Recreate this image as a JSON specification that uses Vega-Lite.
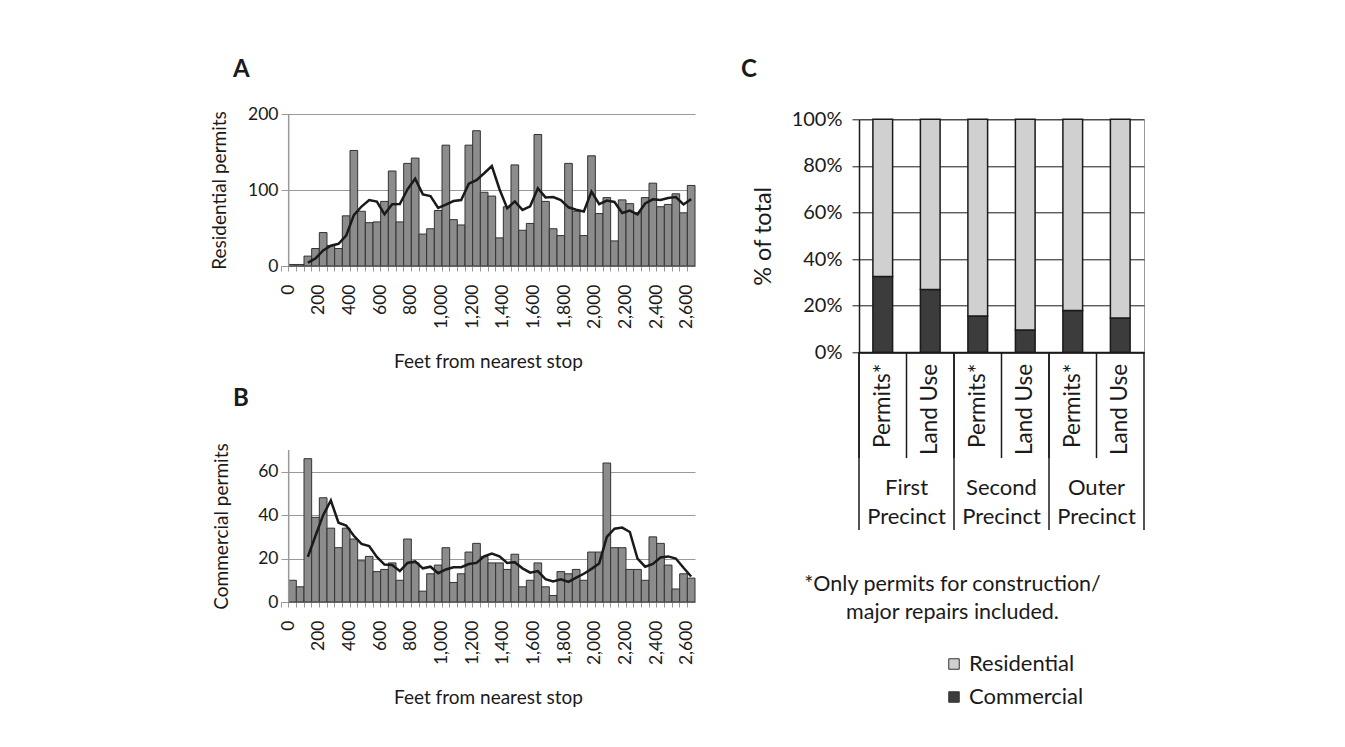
{
  "$schema": "https://vega.github.io/schema/vega-lite/v6.json",
  "background": "white",
  "padding": {"left": 210, "top": 57, "right": 200, "bottom": 40},
  "config": {
    "font": "Lato",
    "view": {"stroke": null},
    "axis": {"labelFont": "Lato", "titleFont": "Lato", "labelFontSize": 17.5, "titleFontSize": 19, "labelColor": "#1a1a1a", "titleColor": "#1a1a1a", "titleFontWeight": "normal"},
    "title": {"font": "Lato", "fontSize": 24, "fontWeight": "bold", "anchor": "start", "color": "#1a1a1a", "frame": "group", "baseline": "bottom"},
    "legend": {"labelFont": "Lato", "labelFontSize": 22, "labelColor": "#1a1a1a"}
  },
  "datasets": {
    "hist": [
      {"ft": 0, "res": 0, "com": 0, "res_ma": null, "com_ma": null},
      {"ft": 50, "res": 2, "com": 10, "res_ma": null, "com_ma": null},
      {"ft": 100, "res": 2, "com": 7, "res_ma": null, "com_ma": null},
      {"ft": 150, "res": 13, "com": 66, "res_ma": 4.25, "com_ma": 20.75},
      {"ft": 200, "res": 23, "com": 39, "res_ma": 10, "com_ma": 30.5},
      {"ft": 250, "res": 44, "com": 48, "res_ma": 20.5, "com_ma": 40},
      {"ft": 300, "res": 27, "com": 34, "res_ma": 26.75, "com_ma": 46.75},
      {"ft": 350, "res": 23, "com": 25, "res_ma": 29.25, "com_ma": 36.5},
      {"ft": 400, "res": 66, "com": 34, "res_ma": 40, "com_ma": 35.25},
      {"ft": 450, "res": 152, "com": 29, "res_ma": 67, "com_ma": 30.5},
      {"ft": 500, "res": 72, "com": 19, "res_ma": 78.25, "com_ma": 26.75},
      {"ft": 550, "res": 57, "com": 21, "res_ma": 86.75, "com_ma": 25.75},
      {"ft": 600, "res": 58, "com": 14, "res_ma": 84.75, "com_ma": 20.75},
      {"ft": 650, "res": 85, "com": 15, "res_ma": 68, "com_ma": 17.25},
      {"ft": 700, "res": 125, "com": 18, "res_ma": 81.25, "com_ma": 17},
      {"ft": 750, "res": 58, "com": 10, "res_ma": 81.5, "com_ma": 14.25},
      {"ft": 800, "res": 135, "com": 29, "res_ma": 100.75, "com_ma": 18},
      {"ft": 850, "res": 142, "com": 18, "res_ma": 115, "com_ma": 18.75},
      {"ft": 900, "res": 42, "com": 5, "res_ma": 94.25, "com_ma": 15.5},
      {"ft": 950, "res": 49, "com": 13, "res_ma": 92, "com_ma": 16.25},
      {"ft": 1000, "res": 73, "com": 17, "res_ma": 76.5, "com_ma": 13.25},
      {"ft": 1050, "res": 159, "com": 25, "res_ma": 80.75, "com_ma": 15},
      {"ft": 1100, "res": 61, "com": 9, "res_ma": 85.5, "com_ma": 16},
      {"ft": 1150, "res": 54, "com": 13, "res_ma": 86.75, "com_ma": 16},
      {"ft": 1200, "res": 159, "com": 23, "res_ma": 108.25, "com_ma": 17.5},
      {"ft": 1250, "res": 178, "com": 27, "res_ma": 113, "com_ma": 18},
      {"ft": 1300, "res": 97, "com": 21, "res_ma": 122, "com_ma": 21},
      {"ft": 1350, "res": 92, "com": 18, "res_ma": 131.5, "com_ma": 22.25},
      {"ft": 1400, "res": 37, "com": 18, "res_ma": 101, "com_ma": 21},
      {"ft": 1450, "res": 78, "com": 15, "res_ma": 76, "com_ma": 18},
      {"ft": 1500, "res": 133, "com": 22, "res_ma": 85, "com_ma": 18.25},
      {"ft": 1550, "res": 47, "com": 7, "res_ma": 73.75, "com_ma": 15.5},
      {"ft": 1600, "res": 56, "com": 10, "res_ma": 78.5, "com_ma": 13.5},
      {"ft": 1650, "res": 173, "com": 18, "res_ma": 102.25, "com_ma": 14.25},
      {"ft": 1700, "res": 85, "com": 7, "res_ma": 90.25, "com_ma": 10.5},
      {"ft": 1750, "res": 49, "com": 3, "res_ma": 90.75, "com_ma": 9.5},
      {"ft": 1800, "res": 40, "com": 14, "res_ma": 86.75, "com_ma": 10.5},
      {"ft": 1850, "res": 135, "com": 13, "res_ma": 77.25, "com_ma": 9.25},
      {"ft": 1900, "res": 72, "com": 15, "res_ma": 74, "com_ma": 11.25},
      {"ft": 1950, "res": 40, "com": 10, "res_ma": 71.75, "com_ma": 13},
      {"ft": 2000, "res": 145, "com": 23, "res_ma": 98, "com_ma": 15.25},
      {"ft": 2050, "res": 69, "com": 23, "res_ma": 81.5, "com_ma": 17.75},
      {"ft": 2100, "res": 90, "com": 64, "res_ma": 86, "com_ma": 30},
      {"ft": 2150, "res": 33, "com": 25, "res_ma": 84.25, "com_ma": 33.75},
      {"ft": 2200, "res": 87, "com": 25, "res_ma": 69.75, "com_ma": 34.25},
      {"ft": 2250, "res": 82, "com": 15, "res_ma": 73, "com_ma": 32.25},
      {"ft": 2300, "res": 70, "com": 15, "res_ma": 68, "com_ma": 20},
      {"ft": 2350, "res": 90, "com": 10, "res_ma": 82.25, "com_ma": 16.25},
      {"ft": 2400, "res": 109, "com": 30, "res_ma": 87.75, "com_ma": 17.5},
      {"ft": 2450, "res": 78, "com": 27, "res_ma": 86.75, "com_ma": 20.5},
      {"ft": 2500, "res": 81, "com": 17, "res_ma": 89.5, "com_ma": 21},
      {"ft": 2550, "res": 95, "com": 6, "res_ma": 90.75, "com_ma": 20},
      {"ft": 2600, "res": 70, "com": 13, "res_ma": 81, "com_ma": 15.75},
      {"ft": 2650, "res": 106, "com": 11, "res_ma": 88, "com_ma": 11.75}
    ],
    "mix": [
      {"cat": "1|First|Permits*", "precinct": "First Precinct", "measure": "Permits*", "type": "Commercial", "pct": 32.5},
      {"cat": "1|First|Permits*", "precinct": "First Precinct", "measure": "Permits*", "type": "Residential", "pct": 67.5},
      {"cat": "2|First|Land Use", "precinct": "First Precinct", "measure": "Land Use", "type": "Commercial", "pct": 27},
      {"cat": "2|First|Land Use", "precinct": "First Precinct", "measure": "Land Use", "type": "Residential", "pct": 73},
      {"cat": "3|Second|Permits*", "precinct": "Second Precinct", "measure": "Permits*", "type": "Commercial", "pct": 15.6},
      {"cat": "3|Second|Permits*", "precinct": "Second Precinct", "measure": "Permits*", "type": "Residential", "pct": 84.4},
      {"cat": "4|Second|Land Use", "precinct": "Second Precinct", "measure": "Land Use", "type": "Commercial", "pct": 9.6},
      {"cat": "4|Second|Land Use", "precinct": "Second Precinct", "measure": "Land Use", "type": "Residential", "pct": 90.4},
      {"cat": "5|Outer|Permits*", "precinct": "Outer Precinct", "measure": "Permits*", "type": "Commercial", "pct": 17.9},
      {"cat": "5|Outer|Permits*", "precinct": "Outer Precinct", "measure": "Permits*", "type": "Residential", "pct": 82.1},
      {"cat": "6|Outer|Land Use", "precinct": "Outer Precinct", "measure": "Land Use", "type": "Commercial", "pct": 14.7},
      {"cat": "6|Outer|Land Use", "precinct": "Outer Precinct", "measure": "Land Use", "type": "Residential", "pct": 85.3}
    ]
  },
  "spacing": 37,
  "hconcat": [
    {
      "bounds": "flush",
      "spacing": 184,
      "vconcat": [
        {
          "title": {"text": "A", "dx": -48, "offset": 23},
          "width": 414,
          "height": 152,
          "data": {"name": "hist"},
          "layer": [
            {
              "mark": {"type": "bar", "fill": "#8c8c8c", "stroke": "#333333", "strokeWidth": 1},
              "encoding": {
                "x": {"field": "ft", "type": "ordinal", "scale": {"paddingInner": 0, "paddingOuter": 0},
                  "axis": {"title": "Feet from nearest stop", "labelAngle": 270, "labelExpr": "datum.value % 200 == 0 ? format(datum.value, ',') : ''", "labelOverlap": false, "bandPosition": 0, "labelOffset": 3.8, "tickSize": 5, "tickColor": "#999999", "domainColor": "#999999", "labelPadding": 13, "titlePadding": 24, "grid": false}},
                "y": {"field": "res", "type": "quantitative", "scale": {"domain": [0, 200]},
                  "axis": {"title": "Residential permits", "values": [0, 50, 100, 150, 200], "grid": true, "gridColor": "#999999", "domain": false, "ticks": false, "labelPadding": 3, "titlePadding": 18}},
                "strokeOpacity": {"condition": {"test": "datum.res == 0", "value": 0}, "value": 1}
              }
            },
            {
              "mark": {"type": "line", "color": "#1a1a1a", "strokeWidth": 2.5},
              "encoding": {
                "x": {"field": "ft", "type": "ordinal", "title": "Feet from nearest stop"},
                "y": {"field": "res_ma", "type": "quantitative", "title": "Residential permits"}
              }
            },
            {
              "transform": [{"filter": "datum.ft == 0"}],
              "mark": {"type": "rule", "color": "#999999", "strokeWidth": 1.5},
              "encoding": {
                "x": {"field": "ft", "type": "ordinal", "bandPosition": 1, "title": "Feet from nearest stop"},
                "y": {"datum": 0},
                "y2": {"datum": 200}
              }
            }
          ]
        },
        {
          "title": {"text": "B", "dx": -48, "offset": 32},
          "width": 414,
          "height": 152,
          "data": {"name": "hist"},
          "layer": [
            {
              "mark": {"type": "bar", "fill": "#8c8c8c", "stroke": "#333333", "strokeWidth": 1},
              "encoding": {
                "x": {"field": "ft", "type": "ordinal", "scale": {"paddingInner": 0, "paddingOuter": 0},
                  "axis": {"title": "Feet from nearest stop", "labelAngle": 270, "labelExpr": "datum.value % 200 == 0 ? format(datum.value, ',') : ''", "labelOverlap": false, "bandPosition": 0, "labelOffset": 3.8, "tickSize": 5, "tickColor": "#999999", "domainColor": "#999999", "labelPadding": 13, "titlePadding": 24, "grid": false}},
                "y": {"field": "com", "type": "quantitative", "scale": {"domain": [0, 70]},
                  "axis": {"title": "Commercial permits", "values": [0, 10, 20, 30, 40, 50, 60, 70], "grid": true, "gridColor": "#999999", "domain": false, "ticks": false, "labelPadding": 3, "titlePadding": 26}},
                "strokeOpacity": {"condition": {"test": "datum.com == 0", "value": 0}, "value": 1}
              }
            },
            {
              "mark": {"type": "line", "color": "#1a1a1a", "strokeWidth": 2.5},
              "encoding": {
                "x": {"field": "ft", "type": "ordinal", "title": "Feet from nearest stop"},
                "y": {"field": "com_ma", "type": "quantitative", "title": "Commercial permits"}
              }
            },
            {
              "transform": [{"filter": "datum.ft == 0"}],
              "mark": {"type": "rule", "color": "#999999", "strokeWidth": 1.5},
              "encoding": {
                "x": {"field": "ft", "type": "ordinal", "bandPosition": 1, "title": "Feet from nearest stop"},
                "y": {"datum": 0},
                "y2": {"datum": 70}
              }
            }
          ]
        }
      ]
    },
    {
      "bounds": "flush",
      "spacing": 4.3,
      "vconcat": [
        {"width": 1, "height": 1, "data": {"values": []}, "mark": {"type": "point", "opacity": 0}, "encoding": {}},
        {
          "title": {"text": "C", "dx": -118, "offset": 27.3},
          "width": 285,
          "height": 233,
          "data": {"name": "mix"},
          "view": {"stroke": "#999999"},
          "layer": [
            {
              "mark": {"type": "bar", "width": {"band": 0.415}, "stroke": "#1a1a1a", "strokeWidth": 1.5},
              "encoding": {
                "x": {"field": "cat", "type": "nominal", "sort": "ascending", "scale": {"paddingInner": 0, "paddingOuter": 0},
                  "axis": {"title": ["*Only permits for construction/", "major repairs included."], "titleFontSize": 21.5, "titleLineHeight": 28, "titleX": 93, "titleY": 232, "titleAlign": "center", "titleBaseline": "middle", "labelExpr": "split(datum.value, '|')[2]", "labelFontSize": 22.5, "labelAngle": 270, "ticks": false, "domainColor": "#1a1a1a", "domainWidth": 2, "labelPadding": 11}},
                "y": {"field": "pct", "type": "quantitative", "stack": "zero", "scale": {"domain": [0, 100]},
                  "axis": {"title": "% of total", "titleFontSize": 23.5, "values": [0, 20, 40, 60, 80, 100], "labelExpr": "datum.value + '%'", "labelFontSize": 20, "grid": true, "gridColor": "#1a1a1a", "domainColor": "#1a1a1a", "domainWidth": 1.5, "tickSize": 7, "tickColor": "#1a1a1a", "labelPadding": 10, "titlePadding": 16}},
                "color": {"field": "type", "type": "nominal", "scale": {"domain": ["Residential", "Commercial"], "range": ["#d0d0d0", "#3c3c3c"]},
                  "legend": {"orient": "none", "legendX": 662, "legendY": 539, "title": null, "symbolType": "square", "symbolSize": 110, "rowPadding": 11, "symbolStrokeColor": "#333333", "symbolStrokeWidth": 1}},
                "order": {"field": "type", "sort": "ascending"}
              }
            },
            {
              "transform": [{"filter": "datum.type == 'Commercial'"}],
              "mark": {"type": "rule", "color": "#1a1a1a", "strokeWidth": 1.5},
              "encoding": {
                "x": {"field": "cat", "type": "nominal", "sort": "ascending", "bandPosition": 0},
                "y": {"datum": 0},
                "y2": {"datum": -45.4}
              }
            },
            {
              "transform": [{"filter": "datum.type == 'Commercial' && datum.measure == 'Permits*'"}],
              "mark": {"type": "rule", "color": "#1a1a1a", "strokeWidth": 1.5},
              "encoding": {
                "x": {"field": "cat", "type": "nominal", "sort": "ascending", "bandPosition": 0},
                "y": {"datum": 0},
                "y2": {"datum": -76.3}
              }
            },
            {
              "transform": [{"filter": "datum.type == 'Commercial' && datum.cat == '6|Outer|Land Use'"}],
              "mark": {"type": "rule", "color": "#1a1a1a", "strokeWidth": 1.5},
              "encoding": {
                "x": {"field": "cat", "type": "nominal", "sort": "ascending", "bandPosition": 1},
                "y": {"datum": 0},
                "y2": {"datum": -76.3}
              }
            },
            {
              "transform": [{"filter": "datum.type == 'Commercial' && datum.measure == 'Land Use'"}],
              "mark": {"type": "text", "lineBreak": " ", "fontSize": 22, "lineHeight": 29, "baseline": "middle", "align": "center", "color": "#1a1a1a"},
              "encoding": {
                "x": {"field": "cat", "type": "nominal", "sort": "ascending", "bandPosition": 0},
                "y": {"datum": -58.2},
                "text": {"field": "precinct"}
              }
            }
          ]
        }
      ]
    }
  ]
}
